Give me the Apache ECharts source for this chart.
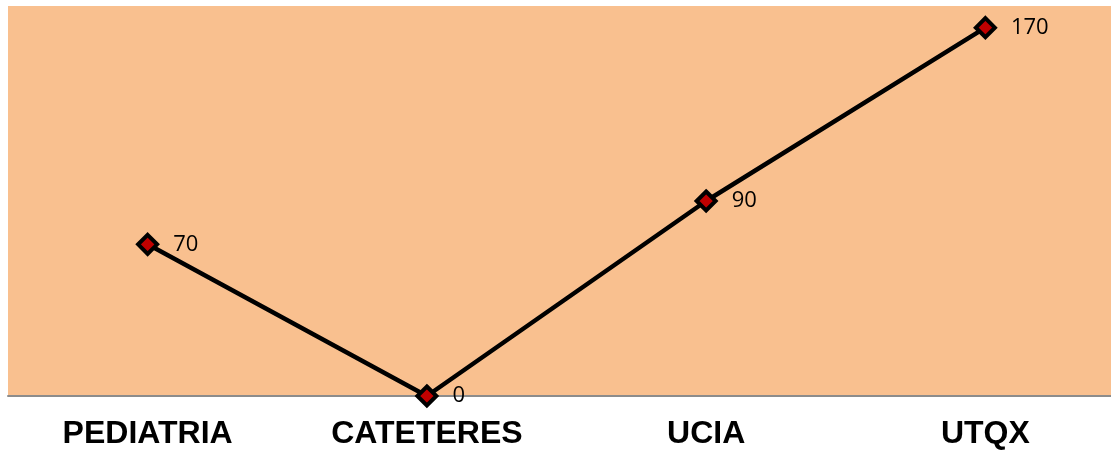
<!DOCTYPE html>
<html><head><meta charset="utf-8">
<script src="https://cdn.jsdelivr.net/npm/echarts@6/dist/echarts.min.js"></script>
<style>html,body{margin:0;padding:0;overflow:hidden;background:#fff}#c{width:1125px;height:451px}</style>
</head><body><div id="c"></div>
<script>
const categories = ['PEDIATRIA', 'CATETERES', 'UCIA', 'UTQX'];
const values = [70, 0, 90, 170];

const chart = echarts.init(document.getElementById('c'));
chart.setOption({
  animation: false,
  grid: { left: 8, right: 0, top: 6, bottom: 55, show: true, backgroundColor: '#F9C08F', borderWidth: 0 },
  xAxis: {
    type: 'category', data: categories, boundaryGap: true,
    axisLine: { show: true, lineStyle: { color: '#8c8c8c', width: 2 } },
    axisTick: { show: false },
    axisLabel: { fontFamily: 'Liberation Sans', fontWeight: 'bold', fontSize: 32, color: '#000', margin: 22 }
  },
  yAxis: {
    type: 'value', min: 0, max: 180, show: false, splitLine: { show: false }
  },
  series: [{
    type: 'line', data: values,
    lineStyle: { color: '#000', width: 4.5 },
    symbol: 'diamond', symbolSize: 19,
    itemStyle: { color: '#C00000', borderColor: '#000', borderWidth: 4 },
    label: { show: true, position: 'right', distance: 14, fontFamily: 'Open Sans', fontSize: 22, color: '#000' },
    z: 5
  }]
});
</script></body></html>
